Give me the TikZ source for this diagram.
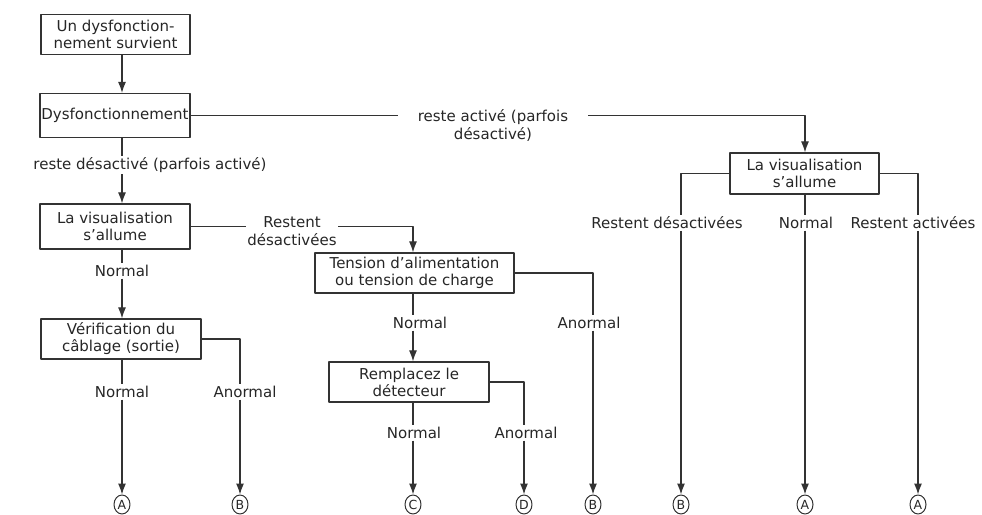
\documentclass[tikz,border=0pt]{standalone}
\usepackage{fontspec}
\setmainfont{DejaVu Sans}
\usetikzlibrary{arrows.meta,shapes.geometric}
\begin{document}
\begin{tikzpicture}[>={Latex[length=11bp,width=8bp]},line join=bevel,x=1bp,y=-1bp,
  every node/.style={text=black!85},
  box/.style={draw=black!80,line width=1.2bp,align=center,inner sep=1.5bp,font=\fontsize{15bp}{17bp}\selectfont},
  lbl/.style={align=center,inner sep=1.5bp,font=\fontsize{15bp}{18bp}\selectfont},
  endmark/.style={ellipse,draw=black!80,line width=1bp,inner sep=0pt,minimum width=16bp,minimum height=19bp,font=\fontsize{12.5bp}{12.5bp}\selectfont},
  link/.style={draw=black!80,line width=1.2bp}]
\useasboundingbox (0,0) rectangle (982,515);
%%
\node (box_start) at (115.5,34.5) [box,minimum width=149bp,minimum height=40bp] {Un dysfonction-\\nement survient};
  \node (box_dysf) at (115,115.5) [box,minimum width=150bp,minimum height=44bp,inner xsep=0.5bp] {Dysfonctionnement};
  \node (box_vis_l) at (115,226.5) [box,minimum width=150bp,minimum height=45bp] {La visualisation\\s’allume};
  \node (box_cabl) at (121,339) [box,minimum width=160bp,minimum height=40bp] {Vérification du\\câblage (sortie)};
  \node (box_tension) at (414.5,273) [box,minimum width=199bp,minimum height=40bp] {Tension d’alimentation\\ou tension de charge};
  \node (box_detect) at (409,382) [box,minimum width=160bp,minimum height=40bp] {Remplacez le\\détecteur};
  \node (box_vis_r) at (804.5,173.5) [box,minimum width=149bp,minimum height=41bp] {La visualisation\\s’allume};
%
  \node (lbl_off) at (150,165) [lbl] {reste désactivé (parfois activé)};
  \node (lbl_on) at (493,125) [lbl,inner xsep=20bp] {reste activé (parfois\\désactivé)};
  \node (lbl_off_l) at (292,231) [lbl] {Restent\\désactivées};
  \node (lbl_n1) at (122,271) [lbl] {Normal};
  \node (lbl_n2) at (122,392) [lbl] {Normal};
  \node (lbl_a1) at (245,392) [lbl] {Anormal};
  \node (lbl_n3) at (420,323) [lbl] {Normal};
  \node (lbl_a3) at (589,323) [lbl] {Anormal};
  \node (lbl_n4) at (414,433) [lbl] {Normal};
  \node (lbl_a2) at (526,433) [lbl] {Anormal};
  \node (lbl_off_r) at (667,223) [lbl] {Restent désactivées};
  \node (lbl_n5) at (806,223) [lbl] {Normal};
  \node (lbl_on_r) at (913,223) [lbl] {Restent activées};
%
  \node (end_1) at (122,504.5) [endmark] {A};
  \node (end_2) at (240,504.5) [endmark] {B};
  \node (end_3) at (413,504.5) [endmark] {C};
  \node (end_4) at (524,504.5) [endmark] {D};
  \node (end_5) at (593,504.5) [endmark] {B};
  \node (end_6) at (681,504.5) [endmark] {B};
  \node (end_7) at (805,504.5) [endmark] {A};
  \node (end_8) at (918,504.5) [endmark] {A};
%
  \draw [link,->] (box_start.south -| end_1) -- (box_dysf.north -| end_1);
  \draw [link] (box_dysf.south -| end_1) -- (lbl_off.north -| end_1);
  \draw [link,->] (lbl_off.south -| end_1) -- (box_vis_l.north -| end_1);
  \draw [link] (box_vis_l.south -| end_1) -- (lbl_n1);
  \draw [link,->] (lbl_n1) -- (box_cabl.north -| end_1);
  \draw [link] (box_cabl.south -| end_1) -- (lbl_n2);
  \draw [link,->] (lbl_n2) -- (end_1);
  \draw [link] (box_cabl.east) -| (lbl_a1.north -| end_2);
  \draw [link,->] (lbl_a1.south -| end_2) -- (end_2);
%
  \draw [link] (box_vis_l.east) -- (lbl_off_l.west |- box_vis_l.east);
  \draw [link,->] (lbl_off_l.east |- box_vis_l.east) -| (box_tension.north -| end_3);
  \draw [link] (box_tension.south -| end_3) -- (lbl_n3.north -| end_3);
  \draw [link,->] (lbl_n3.south -| end_3) -- (box_detect.north -| end_3);
  \draw [link] (box_detect.south -| end_3) -- (lbl_n4.north -| end_3);
  \draw [link,->] (lbl_n4.south -| end_3) -- (end_3);
  \draw [link] (box_detect.east) -| (lbl_a2.north -| end_4);
  \draw [link,->] (lbl_a2.south -| end_4) -- (end_4);
  \draw [link] (box_tension.east) -| (lbl_a3.north -| end_5);
  \draw [link,->] (lbl_a3.south -| end_5) -- (end_5);
%
  \draw [link] (box_dysf.east) -- (lbl_on.west |- box_dysf.east);
  \draw [link,->] (lbl_on.east |- box_dysf.east) -| (box_vis_r.north -| end_7);
  \draw [link] (box_vis_r.west) -| (lbl_off_r.north -| end_6);
  \draw [link,->] (lbl_off_r.south -| end_6) -- (end_6);
  \draw [link] (box_vis_r.south -| end_7) -- (lbl_n5.north -| end_7);
  \draw [link,->] (lbl_n5.south -| end_7) -- (end_7);
  \draw [link] (box_vis_r.east) -| (lbl_on_r.north -| end_8);
  \draw [link,->] (lbl_on_r.south -| end_8) -- (end_8);
%
\end{tikzpicture}
\end{document}
